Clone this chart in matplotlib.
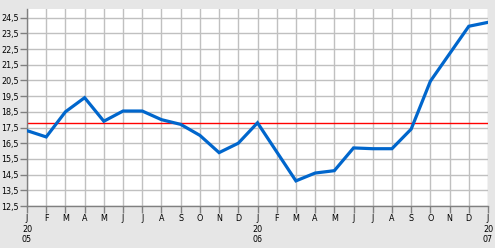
import matplotlib
matplotlib.use("Agg")
import matplotlib.pyplot as plt

months = ["J", "F", "M", "A", "M", "J", "J", "A", "S", "O", "N", "D",
          "J", "F", "M", "A", "M", "J", "J", "A", "S", "O", "N", "D", "J"]
year_marks = {0: "20\n05", 12: "20\n06", 24: "20\n07"}
values = [17.3, 16.9, 18.5, 19.4, 17.9, 18.55, 18.55, 18.0, 17.7, 17.0, 15.9, 16.5,
          17.8, 15.95, 14.1, 14.6, 14.75, 16.2, 16.15, 16.15, 17.4, 20.45, 22.2, 23.95, 24.2]
reference_level = 17.8
yticks = [12.5 + i for i in range(13)]

fig = plt.figure(figsize=(4.95, 2.48), dpi=100)
fig.patch.set_facecolor("#e6e6e6")
ax = fig.add_axes([27 / 495, 42 / 248, 461 / 495, 197 / 248])
ax.set_facecolor("white")

x = list(range(len(values)))
ax.plot(x, values, color="#0066cc", lw=2.3, solid_joinstyle="miter", zorder=3)
ax.axhline(reference_level, color="#ff0000", lw=1.0, zorder=2)

ax.set_xlim(0, len(values) - 1)
ax.set_ylim(12.5, 25.05)
ax.set_yticks(yticks)
ax.set_yticklabels([f"{v:.1f}".replace(".", ",") for v in yticks])
ax.set_xticks(x)
labels = [m + ("\n" + year_marks[i] if i in year_marks else "") for i, m in enumerate(months)]
ax.set_xticklabels(labels, va="top", linespacing=1.2)
ax.grid(True, color="#c0c0c0", lw=1.0, zorder=0)
ax.set_axisbelow(True)
ax.tick_params(axis="both", colors="#808080", length=5, width=1, labelsize=5.8,
               labelcolor="black", pad=1)
for lab in ax.get_yticklabels() + ax.get_xticklabels():
    lab.set_family(["Liberation Sans Narrow", "DejaVu Sans"])
for s in ["top", "right"]:
    ax.spines[s].set_visible(False)
for s in ["left", "bottom"]:
    ax.spines[s].set_color("#808080")
    ax.spines[s].set_linewidth(1.0)

fig.savefig("out.png", dpi=100, facecolor=fig.get_facecolor())
